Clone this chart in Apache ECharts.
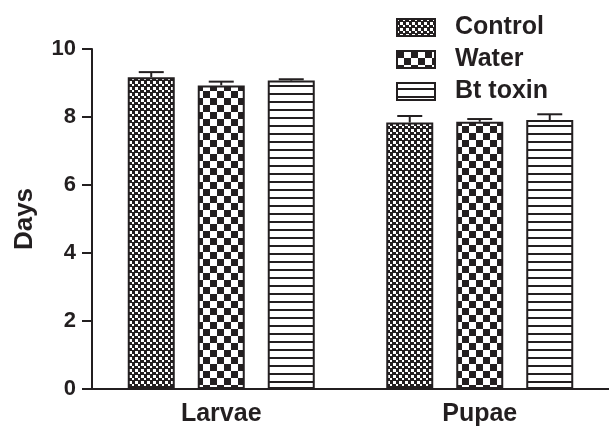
<!DOCTYPE html>
<html><head><meta charset="utf-8">
<script src="https://cdn.jsdelivr.net/npm/echarts@6/dist/echarts.min.js"></script>
<style>html,body{margin:0;padding:0;background:#fff}#c{width:609px;height:427px}</style>
</head><body><div id="c"></div>
<script>
const categories = ['Larvae', 'Pupae'];
const seriesNames = ['Control', 'Water', 'Bt toxin'];
const controlMean = [9.17, 7.84];
const controlErr = [0.15, 0.19];
const waterMean = [8.93, 7.86];
const waterErr = [0.11, 0.08];
const btMean = [9.07, 7.91];
const btErr = [0.04, 0.17];
const yTicks = [0, 2, 4, 6, 8, 10];

const INK = '#231f20';
function tile(w, h, draw) {
  const c = document.createElement('canvas'); c.width = w; c.height = h;
  const g = c.getContext('2d'); draw(g); return c;
}
const patControl = tile(6, 6, g => {
  g.fillStyle = INK; g.fillRect(0, 0, 6, 6);
  g.fillStyle = '#fff'; g.fillRect(0, 0, 3, 3); g.fillRect(3, 3, 3, 3);
  g.fillStyle = INK; g.fillRect(0, 2, 6, 1); g.fillRect(2, 0, 1, 6);
});
const patWater = tile(14, 14, g => {
  g.fillStyle = '#fff'; g.fillRect(0, 0, 14, 14);
  g.fillStyle = INK; g.fillRect(0, 0, 7, 7); g.fillRect(7, 7, 7, 7);
});
const patBt = tile(8, 8, g => {
  g.fillStyle = '#fff'; g.fillRect(0, 0, 8, 8);
  g.fillStyle = INK; g.fillRect(0, 5, 8, 2);
});
const patterns = [patControl, patWater, patBt];
const means = [controlMean, waterMean, btMean];
const errs = [controlErr, waterErr, btErr];

const BAR_W = 47, BAR_GAP = 23;
const font = 'Liberation Sans, Arial, Helvetica, sans-serif';

const series = [];
seriesNames.forEach((name, i) => {
  series.push({
    name, type: 'bar', data: means[i], barWidth: BAR_W, barGap: (BAR_GAP / BAR_W * 100) + '%',
    itemStyle: { color: { image: patterns[i], repeat: 'repeat' }, borderColor: INK, borderWidth: 2 },
    z: 2
  });
});
seriesNames.forEach((name, i) => {
  series.push({
    type: 'custom', name: name + ' err', z: 3,
    data: categories.map((c, k) => [k, means[i][k], errs[i][k]]),
    renderItem: (params, api) => {
      const k = api.value(0), m = api.value(1), e = api.value(2);
      const off = (i - 1) * (BAR_W + BAR_GAP);
      const p0 = api.coord([k, m]); const p1 = api.coord([k, m + e]);
      const x = p0[0] + off, cw = 12.5;
      return { type: 'group', children: [
        { type: 'line', shape: { x1: x, y1: p0[1], x2: x, y2: p1[1] }, style: { stroke: INK, lineWidth: 2 } },
        { type: 'line', shape: { x1: x - cw, y1: p1[1], x2: x + cw, y2: p1[1] }, style: { stroke: INK, lineWidth: 2 } }
      ]};
    }
  });
});

const chart = echarts.init(document.getElementById('c'));
chart.setOption({
  animation: false,
  textStyle: { fontFamily: font },
  grid: { left: 92, right: 0, top: 49, bottom: 35, containLabel: false },
  legend: {
    data: seriesNames.map(n => ({ name: n, icon: 'rect' })), orient: 'vertical', left: 396, top: 15,
    itemWidth: 38, itemHeight: 17, itemGap: 7, padding: 0,
    textStyle: { fontSize: 25, lineHeight: 25, fontWeight: 'bold', color: INK, fontFamily: font, padding: [0, 0, 0, 15] },
    selectedMode: false
  },
  xAxis: {
    type: 'category', data: categories,
    axisLine: { lineStyle: { color: INK, width: 2 } },
    axisTick: { alignWithLabel: true, length: 9, lineStyle: { color: INK, width: 2 } },
    axisLabel: { fontSize: 25, fontWeight: 'bold', color: INK, margin: 13, fontFamily: font }
  },
  yAxis: {
    type: 'value', min: yTicks[0], max: yTicks[yTicks.length - 1], interval: 2,
    name: 'Days', nameLocation: 'middle', nameGap: 54, nameRotate: 90,
    nameTextStyle: { fontSize: 26, fontWeight: 'bold', color: INK, fontFamily: font },
    axisLine: { show: true, lineStyle: { color: INK, width: 2 } },
    axisTick: { show: true, length: 10, lineStyle: { color: INK, width: 2 } },
    axisLabel: { fontSize: 22, fontWeight: 'bold', color: INK, margin: 16, fontFamily: font },
    splitLine: { show: false }
  },
  series
});
</script></body></html>
